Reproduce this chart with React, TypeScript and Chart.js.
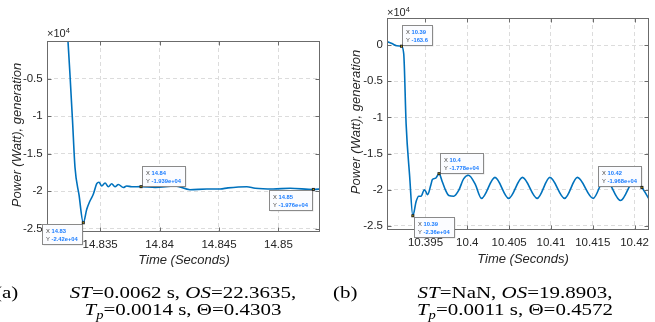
import React, { useEffect, useRef } from 'react';
import { Chart, registerables } from 'chart.js';
Chart.register(...registerables);

// ---------- data (power in units of 1e4 W) ----------
const leftTime = [14.83212, 14.83229, 14.83246, 14.83267, 14.83288, 14.83322, 14.83358, 14.83387, 14.83414, 14.83442, 14.83471, 14.8349, 14.83513, 14.83541, 14.83569, 14.83597, 14.83625, 14.83653, 14.83695, 14.83723, 14.83766, 14.83844, 14.83962, 14.8413, 14.84256, 14.84397, 14.84509, 14.84576, 14.84734, 14.84804, 14.84955, 14.85098, 14.85294, 14.8536];
const leftPower = [0.45, 0, -0.45, -1.05, -1.68, -2.05, -2.42, -2.24, -2.13, -2.04, -1.9, -1.88, -1.93, -1.89, -1.94, -1.9, -1.94, -1.91, -1.95, -1.93, -1.94, -1.939, -1.95, -1.93, -1.98, -1.97, -1.97, -1.955, -1.94, -1.96, -1.97, -1.96, -1.976, -1.97];
const leftXTicks = [14.835, 14.84, 14.845, 14.85];
const leftXLabels = ['14.835', '14.84', '14.845', '14.85'];
const leftYTicks = [-2.5, -2, -1.5, -1, -0.5];
const leftYLabels = ['-2.5', '-2', '-1.5', '-1', '-0.5'];
const leftXRange = [14.8305, 14.8535];
const leftYRange = [-2.536, 0];
const leftTipTime = [14.83358, 14.83844, 14.85294];
const leftTipPower = [-2.42, -1.939, -1.976];
const leftTipX = ['14.83', '14.84', '14.85'];
const leftTipY = ['-2.42e+04', '-1.939e+04', '-1.976e+04'];
const leftTipSide = ['bl', 'tr', 'bl'];

const rightTime = [10.3903, 10.39099, 10.39157, 10.39213, 10.3924, 10.39269, 10.3931, 10.39349, 10.39389, 10.39419, 10.39447, 10.39486, 10.39506, 10.39525, 10.39565, 10.39583, 10.39623, 10.39662, 10.39701, 10.39741, 10.39779, 10.39838, 10.39897, 10.39956, 10.40014, 10.40093, 10.4017, 10.40331, 10.40495, 10.4066, 10.40836, 10.40988, 10.41164, 10.41317, 10.41505, 10.41646, 10.41833, 10.41998, 10.42088, 10.42174];
const rightPower = [0.055, 0.02, -0.01, -0.016, -0.12, -1.1, -1.8, -2.36, -2.16, -2.09, -2.09, -2.0, -2.03, -2.07, -1.93, -1.86, -1.84, -1.778, -1.89, -2.01, -2.08, -2.09, -2.01, -1.85, -1.8, -1.92, -2.12, -1.83, -2.12, -1.83, -2.12, -1.83, -2.12, -1.83, -2.12, -1.84, -2.15, -1.87, -1.968, -2.13];
const rightXTicks = [10.395, 10.4, 10.405, 10.41, 10.415, 10.42];
const rightXLabels = ['10.395', '10.4', '10.405', '10.41', '10.415', '10.42'];
const rightYTicks = [-2.5, -2, -1.5, -1, -0.5, 0];
const rightYLabels = ['-2.5', '-2', '-1.5', '-1', '-0.5', '0'];
const rightXRange = [10.3904, 10.4217];
const rightYRange = [-2.55, 0.374];
const rightTipTime = [10.39213, 10.39662, 10.39349, 10.42088];
const rightTipPower = [-0.016, -1.778, -2.36, -1.968];
const rightTipX = ['10.39', '10.4', '10.39', '10.42'];
const rightTipY = ['-163.6', '-1.778e+04', '-2.36e+04', '-1.968e+04'];
const rightTipSide = ['tr', 'tr', 'br', 'tl'];

// ---------- styling ----------
const SANS = '"Liberation Sans", Arial, Helvetica, sans-serif';
const SERIF = '"Liberation Serif", "Times New Roman", serif';
const LINE = '#0072BD';
const TEXT = '#262626';

const framePlugin = {
  id: 'matlabFrame',
  afterDraw(chart: any) {
    const { ctx, chartArea: a, scales } = chart;
    ctx.save();
    ctx.strokeStyle = '#6b6b6b';
    ctx.lineWidth = 1;
    const L = Math.round(a.left) + 0.5, R = Math.round(a.right) - 0.5;
    const T = Math.round(a.top) + 0.5, B = Math.round(a.bottom) - 0.5;
    ctx.strokeRect(L, T, R - L, B - T);
    ctx.beginPath();
    scales.x.ticks.forEach((_: any, i: number) => {
      const px = Math.round(scales.x.getPixelForTick(i)) + 0.5;
      ctx.moveTo(px, B); ctx.lineTo(px, B - 4);
      ctx.moveTo(px, T); ctx.lineTo(px, T + 4);
    });
    scales.y.ticks.forEach((_: any, i: number) => {
      const py = Math.round(scales.y.getPixelForTick(i)) + 0.5;
      ctx.moveTo(L, py); ctx.lineTo(L + 4, py);
      ctx.moveTo(R, py); ctx.lineTo(R - 4, py);
    });
    ctx.stroke();
    ctx.restore();
  },
};

function tipPlugin(times: number[], powers: number[], xs: string[], ys: string[], sides: string[]) {
  return {
    id: 'datatips',
    afterDraw(chart: any) {
      const { ctx, scales } = chart;
      ctx.save();
      const fs = 5.8;
      times.forEach((t, i) => {
        const px = scales.x.getPixelForValue(t);
        const py = scales.y.getPixelForValue(powers[i]);
        ctx.font = `${fs}px ${SANS}`;
        const wX = ctx.measureText('X ').width;
        const wY = ctx.measureText('Y ').width;
        ctx.font = `bold ${fs}px ${SANS}`;
        const w1 = wX + ctx.measureText(xs[i]).width;
        const w2 = wY + ctx.measureText(ys[i]).width;
        const w = Math.round(Math.max(w1, w2) + 8);
        const h = 20;
        const side = sides[i];
        let bx = side.includes('r') ? px + 1 : px - 1 - w;
        let by = side.includes('t') ? py - 1 - h : py + 1;
        bx = Math.round(bx) + 0.5; by = Math.round(by) + 0.5;
        // shadow
        ctx.fillStyle = 'rgba(0,0,0,0.12)';
        ctx.fillRect(bx + 1, by + 1, w, h);
        ctx.fillStyle = '#fbfcff';
        ctx.fillRect(bx, by, w, h);
        ctx.strokeStyle = '#8a8a8a';
        ctx.lineWidth = 1;
        ctx.strokeRect(bx, by, w, h);
        ctx.textBaseline = 'alphabetic';
        ctx.textAlign = 'left';
        const tx = bx + 3.5;
        [[ 'X ', xs[i], wX, 8.5 ], [ 'Y ', ys[i], wY, 16.5 ]].forEach((row: any) => {
          ctx.font = `${fs}px ${SANS}`;
          ctx.fillStyle = '#404040';
          ctx.fillText(row[0], tx, by + row[3]);
          ctx.font = `bold ${fs}px ${SANS}`;
          ctx.fillStyle = '#1a7cff';
          ctx.fillText(row[1], tx + row[2], by + row[3]);
        });
        // marker
        ctx.fillStyle = '#202020';
        ctx.fillRect(px - 1.5, py - 1.5, 3, 3);
        ctx.fillStyle = '#e8d000';
        ctx.fillRect(px - 0.5, py - 0.5, 1, 1);
      });
      ctx.restore();
    },
  };
}

type Geo = { cw: number; ch: number; l: number; r: number; t: number; b: number };

function makeConfig(
  times: number[], powers: number[],
  xTicks: number[], xLabels: string[], yTicks: number[], yLabels: string[],
  xRange: number[], yRange: number[], geo: Geo, tips: any
): any {
  return {
    type: 'line',
    data: {
      datasets: [{
        data: times.map((t, i) => ({ x: t, y: powers[i] })),
        borderColor: LINE,
        borderWidth: 1.6,
        pointRadius: 0,
        fill: false,
        cubicInterpolationMode: 'monotone',
      }],
    },
    options: {
      animation: false,
      responsive: false,
      maintainAspectRatio: false,
      layout: { padding: { left: 0, top: geo.t, right: geo.cw - geo.r, bottom: 0 } },
      plugins: { legend: { display: false }, tooltip: { enabled: false }, title: { display: false } },
      scales: {
        x: {
          type: 'linear', position: 'bottom', min: xRange[0], max: xRange[1],
          afterBuildTicks: (s: any) => { s.ticks = xTicks.map((v) => ({ value: v })); },
          afterFit: (s: any) => { s.height = geo.ch - geo.b; },
          ticks: {
            autoSkip: false, maxRotation: 0, padding: 6, color: TEXT,
            font: { family: SANS, size: 11.5 },
            callback: (_v: any, i: number) => xLabels[i],
          },
          grid: { color: '#dcdcdc', lineWidth: 1, drawTicks: false },
          border: { display: false, dash: [4, 3] },
        },
        y: {
          type: 'linear', position: 'left', min: yRange[0], max: yRange[1],
          afterBuildTicks: (s: any) => { s.ticks = yTicks.map((v) => ({ value: v })); },
          afterFit: (s: any) => { s.width = geo.l; },
          ticks: {
            autoSkip: false, padding: 4, color: TEXT,
            font: { family: SANS, size: 11.5 },
            callback: (_v: any, i: number) => yLabels[i],
          },
          grid: { color: '#dcdcdc', lineWidth: 1, drawTicks: false },
          border: { display: false, dash: [4, 3] },
        },
      },
    },
    plugins: [framePlugin, tips],
  };
}

function Plot({ left, geo, config }: { left: number; geo: Geo; config: () => any }) {
  const ref = useRef<HTMLCanvasElement>(null);
  useEffect(() => {
    const chart = new Chart(ref.current as HTMLCanvasElement, config());
    return () => chart.destroy();
  }, []);
  return (
    <canvas ref={ref} width={geo.cw} height={geo.ch}
      style={{ position: 'absolute', left, top: 0, width: geo.cw, height: geo.ch }} />
  );
}

const leftGeo: Geo = { cw: 330, ch: 272, l: 46.7, r: 320, t: 41, b: 231.5 };
const rightGeo: Geo = { cw: 325, ch: 272, l: 57, r: 324, t: 18, b: 229.5 };

const abs = (o: any) => ({ position: 'absolute' as const, whiteSpace: 'nowrap' as const, ...o });

function YTitle({ x, y }: { x: number; y: number }) {
  return (
    <div style={abs({ left: x, top: y, transform: 'translate(-50%,-50%) rotate(-90deg)', font: `italic 13px ${SANS}`, color: TEXT })}>
      Power (Watt), generation
    </div>
  );
}
function XTitle({ x, y }: { x: number; y: number }) {
  return (
    <div style={abs({ left: x, top: y, transform: 'translate(-50%,-50%)', font: `italic 13px ${SANS}`, color: TEXT, lineHeight: '15px' })}>
      Time (Seconds)
    </div>
  );
}
function Exp({ x, y }: { x: number; y: number }) {
  return (
    <div style={abs({ left: x, top: y, font: `11px ${SANS}`, color: TEXT, lineHeight: '13px' })}>
      ×10<span style={{ fontSize: '7.5px', position: 'relative', top: '-4px' }}>4</span>
    </div>
  );
}
function Caption({ x, line1, line2 }: { x: number; line1: any; line2: any }) {
  return (
    <div style={abs({ left: x, top: 284, transform: 'translateX(-50%) scaleX(1.27)', font: `16.5px ${SERIF}`, lineHeight: '17px', color: '#000', textAlign: 'center' })}>
      <div>{line1}</div>
      <div>{line2}</div>
    </div>
  );
}
const sub = (s: string) => (
  <span style={{ fontSize: '11.5px', fontStyle: 'italic', position: 'relative', top: '4px', lineHeight: 0 }}>{s}</span>
);

export default function App() {
  const leftCfg = () => makeConfig(leftTime, leftPower, leftXTicks, leftXLabels, leftYTicks, leftYLabels, leftXRange, leftYRange, leftGeo,
    tipPlugin(leftTipTime, leftTipPower, leftTipX, leftTipY, leftTipSide));
  const rightCfg = () => makeConfig(rightTime, rightPower, rightXTicks, rightXLabels, rightYTicks, rightYLabels, rightXRange, rightYRange, rightGeo,
    tipPlugin(rightTipTime, rightTipPower, rightTipX, rightTipY, rightTipSide));
  return (
    <div style={{ position: 'fixed', left: 0, top: 0, width: 655, height: 322, background: '#fff', overflow: 'hidden' }}>
      <Plot left={0} geo={leftGeo} config={leftCfg} />
      <Plot left={330} geo={rightGeo} config={rightCfg} />
      <YTitle x={16} y={135} />
      <YTitle x={355} y={122} />
      <XTitle x={184} y={259} />
      <XTitle x={523} y={258} />
      <Exp x={47} y={27} />
      <Exp x={387} y={6} />
      <div style={abs({ left: -5, top: 284, font: `16.5px ${SERIF}`, lineHeight: '17px', transform: 'scaleX(1.27)', transformOrigin: 'left top' })}>(a)</div>
      <div style={abs({ left: 333, top: 284, font: `16.5px ${SERIF}`, lineHeight: '17px', transform: 'scaleX(1.27)', transformOrigin: 'left top' })}>(b)</div>
      <Caption x={183}
        line1={<><i>ST</i>=0.0062 s, <i>OS</i>=22.3635,</>}
        line2={<><i>T</i>{sub('p')}=0.0014 s, Θ=0.4303</>} />
      <Caption x={515}
        line1={<><i>ST</i>=NaN, <i>OS</i>=19.8903,</>}
        line2={<><i>T</i>{sub('p')}=0.0011 s, Θ=0.4572</>} />
    </div>
  );
}
